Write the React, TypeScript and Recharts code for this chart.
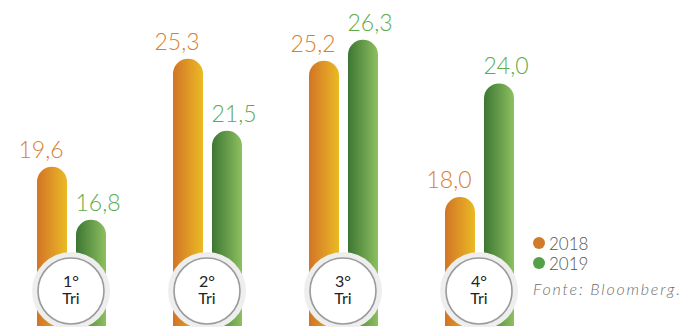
import React from 'react';
import { BarChart, Bar, XAxis, YAxis, LabelList, Legend } from 'recharts';

const quarters = ['1° Tri', '2° Tri', '3° Tri', '4° Tri'];
const values2018 = [19.6, 25.3, 25.2, 18.0];
const values2019 = [16.8, 21.5, 26.3, 24.0];
const seriesNames = ['2018', '2019'];
const legendColors = ['#d17a2a', '#55a046'];
const sourceText = 'Fonte: Bloomberg.';

const data = quarters.map((q, i) => ({ q, a: values2018[i], b: values2019[i] }));

const FONT = 'Lato, "Open Sans", sans-serif';
const ORANGE_LABEL = '#d8802f';
const GREEN_LABEL = '#5eab4c';

const fmt = (v: number) => v.toFixed(1).replace('.', ',');

const makeLabel = (color: string, dx: number) => (props: any) => {
  const { x, y, width, value } = props;
  return (
    <text
      x={x + width / 2 + dx}
      y={y - 9}
      textAnchor="middle"
      fill={color}
      fontFamily={FONT}
      fontWeight={300}
      fontSize={23}
    >
      {fmt(value)}
    </text>
  );
};

const QuarterTick = (props: any) => {
  const { x, y, payload } = props;
  const [num, word] = String(payload.value).split(' ');
  const cy = y - 35;
  return (
    <g>
      <circle cx={x} cy={cy} r={39} fill="#eeeeee" />
      <circle cx={x} cy={cy} r={33} fill="#ffffff" stroke="#9a9a9a" strokeWidth={1.6} />
      <text x={x} y={cy - 4} textAnchor="middle" fill="#222" fontFamily={FONT} fontSize={16}>
        {num}
      </text>
      <text x={x} y={cy + 13} textAnchor="middle" fill="#222" fontFamily={FONT} fontSize={16}>
        {word}
      </text>
    </g>
  );
};

const LegendContent = () => {
  return (
    <div style={{ fontFamily: FONT }}>
      {seriesNames.map((name, i) => (
        <div key={name} style={{ display: 'flex', alignItems: 'center', height: 20 }}>
          <span
            style={{
              display: 'inline-block',
              width: 12,
              height: 12,
              borderRadius: 6,
              background: legendColors[i],
              marginRight: 4,
            }}
          />
          <span style={{ color: '#555', fontSize: 17, fontWeight: 300 }}>{name}</span>
        </div>
      ))}
      <div
        style={{
          color: '#6f6f6f',
          fontSize: 16,
          fontStyle: 'italic',
          fontWeight: 300,
          letterSpacing: 1.8,
          marginTop: 6,
          whiteSpace: 'nowrap',
        }}
      >
        {sourceText}
      </div>
    </div>
  );
};

export default function App() {
  return (
    <div style={{ position: 'absolute', left: 0, top: 0 }}>
      <BarChart
        width={688}
        height={327}
        data={data}
        margin={{ top: 0, right: 141, left: 3, bottom: 0 }}
        barSize={30}
        barGap={9}
      >
        <defs>
          <linearGradient id="gOrange" x1="0" y1="0" x2="1" y2="0">
            <stop offset="0%" stopColor="#d27426" />
            <stop offset="100%" stopColor="#ebba24" />
          </linearGradient>
          <linearGradient id="gGreen" x1="0" y1="0" x2="1" y2="0">
            <stop offset="0%" stopColor="#3d7633" />
            <stop offset="100%" stopColor="#8cc060" />
          </linearGradient>
        </defs>
        <YAxis hide domain={[11.2, 28.4]} allowDataOverflow />
        <Legend
          layout="horizontal"
          verticalAlign="middle"
          align="center"
          content={<LegendContent />}
          wrapperStyle={{ left: 533, top: 233, width: 170 }}
        />
        <Bar dataKey="a" name={seriesNames[0]} fill="url(#gOrange)" radius={[15, 15, 0, 0]} isAnimationActive={false}>
          <LabelList dataKey="a" content={makeLabel(ORANGE_LABEL, -11)} />
        </Bar>
        <Bar dataKey="b" name={seriesNames[1]} fill="url(#gGreen)" radius={[15, 15, 0, 0]} isAnimationActive={false}>
          <LabelList dataKey="b" content={makeLabel(GREEN_LABEL, 7)} />
        </Bar>
        <XAxis
          dataKey="q"
          height={1}
          axisLine={false}
          tickLine={false}
          tickSize={0}
          tickMargin={0}
          interval={0}
          tick={<QuarterTick />}
        />
      </BarChart>
    </div>
  );
}
